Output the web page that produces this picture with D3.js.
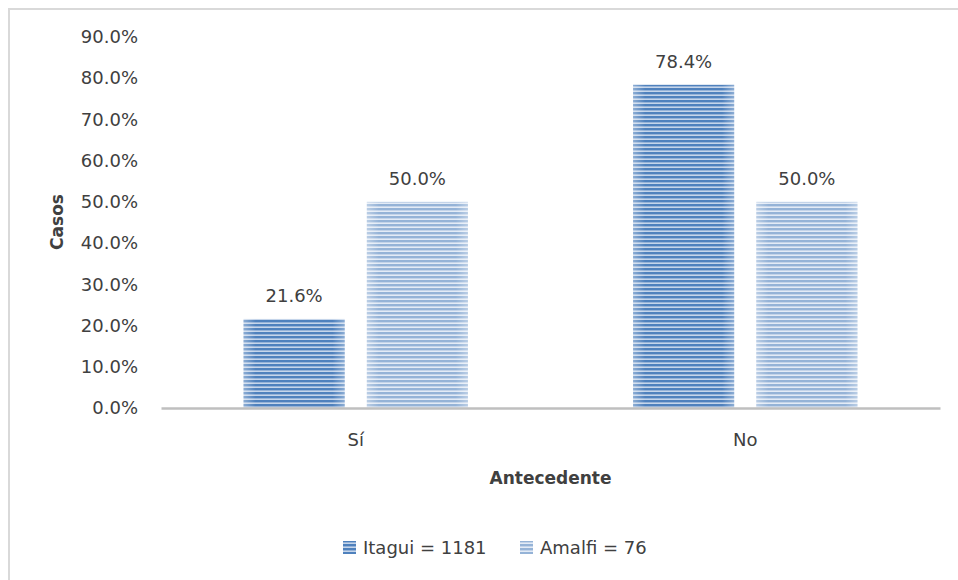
<!DOCTYPE html>
<html>
  <head>
    <meta charset="utf-8" />
    <title>antecedente</title>
    <script src="https://d3js.org/d3.v7.min.js"></script>
    <style>
      body {
        margin: 0;
        background: #fff;
      }
      text {
        font-family: "DejaVu Sans", sans-serif;
        fill: #404040;
      }
    </style>
  </head>
  <body>

    <svg id="chart"></svg>

    <script>

      var categories = ["Sí", "No"];
      var seriesNames = ["Itagui = 1181", "Amalfi = 76"];
      var itagui = [21.6, 78.4];
      var amalfi = [50.0, 50.0];
      var yTicks = [0, 10, 20, 30, 40, 50, 60, 70, 80, 90];

      var width = 958;
      var height = 580;
      var margin = { top: 37, right: 18, bottom: 172, left: 161 };
      var fontSize = "18px";

      var svg = d3.select("#chart")
        .attr("width", width)
        .attr("height", height);

      // chart area border
      svg.append("path")
        .attr("d", "M9," + height + "V9H" + width)
        .attr("fill", "none")
        .attr("stroke", "#d9d9d9")
        .attr("stroke-width", 2);

      // stripe patterns
      var defs = svg.append("defs");
      var stripes = [
        { id: "p0", bg: "#c5d5ea", fg: "#4f81bd" },
        { id: "p1", bg: "#e3ebf6", fg: "#95b3d7" }
      ];
      stripes.forEach(function(s) {
        var p = defs.append("pattern")
          .attr("id", s.id)
          .attr("patternUnits", "userSpaceOnUse")
          .attr("width", 4)
          .attr("height", 4);
        p.append("rect").attr("width", 4).attr("height", 4).attr("fill", s.bg);
        p.append("rect").attr("width", 4).attr("height", 2.4).attr("fill", s.fg);
      });
      var edge = defs.append("linearGradient").attr("id", "edge");
      edge.append("stop").attr("offset", "0").attr("stop-color", "#fff").attr("stop-opacity", 0.35);
      edge.append("stop").attr("offset", "0.12").attr("stop-color", "#fff").attr("stop-opacity", 0);
      edge.append("stop").attr("offset", "0.88").attr("stop-color", "#fff").attr("stop-opacity", 0);
      edge.append("stop").attr("offset", "1").attr("stop-color", "#fff").attr("stop-opacity", 0.35);

      var x = d3.scaleBand()
        .domain(categories)
        .range([margin.left, width - margin.right]);

      var x1 = d3.scaleBand()
        .domain(d3.range(seriesNames.length))
        .range([0, x.bandwidth()])
        .paddingInner(0.18)
        .paddingOuter(0.67);

      var y = d3.scaleLinear()
        .domain([0, 90])
        .range([height - margin.bottom, margin.top]);

      var yAxis = d3.axisLeft(y)
        .tickValues(yTicks)
        .tickSize(0)
        .tickPadding(23)
        .tickFormat(function(d) { return d.toFixed(1) + "%"; });

      var gy = svg.append("g")
        .attr("transform", "translate(" + margin.left + ",0)")
        .call(yAxis);
      gy.select(".domain").remove();
      gy.selectAll("text")
        .attr("font-size", fontSize)
        .style("font-family", "'DejaVu Sans', sans-serif");

      var allSeries = [itagui, amalfi];
      var groups = svg.append("g").selectAll("g")
        .data(categories)
        .enter().append("g")
        .attr("transform", function(d) { return "translate(" + x(d) + ",0)"; });

      groups.each(function(cat, ci) {
        var g = d3.select(this);
        allSeries.forEach(function(vals, si) {
          var v = vals[ci];
          g.append("rect")
            .attr("x", x1(si))
            .attr("y", y(v))
            .attr("width", x1.bandwidth())
            .attr("height", y(0) - y(v))
            .attr("fill", "url(#p" + si + ")");
          g.append("rect")
            .attr("x", x1(si))
            .attr("y", y(v))
            .attr("width", x1.bandwidth())
            .attr("height", y(0) - y(v))
            .attr("fill", "url(#edge)");
          g.append("text")
            .attr("x", x1(si) + x1.bandwidth() / 2)
            .attr("y", y(v) - 17)
            .attr("text-anchor", "middle")
            .attr("font-size", fontSize)
            .text(v.toFixed(1) + "%");
        });
      });

      // x axis
      var xAxis = d3.axisBottom(x).tickSize(0).tickPadding(25);
      var gx = svg.append("g")
        .attr("transform", "translate(0," + y(0) + ")")
        .call(xAxis);
      gx.select(".domain")
        .attr("stroke", "#bfbfbf")
        .attr("stroke-width", 2.5);
      gx.selectAll("text")
        .attr("font-size", fontSize)
        .style("font-family", "'DejaVu Sans', sans-serif");

      svg.append("text")
        .attr("x", (margin.left + width - margin.right) / 2)
        .attr("y", 484)
        .attr("text-anchor", "middle")
        .attr("font-size", "17px")
        .attr("font-weight", "bold")
        .text("Antecedente");

      svg.append("text")
        .attr("transform", "translate(63," + 222 + ") rotate(-90)")
        .attr("text-anchor", "middle")
        .attr("font-size", "17px")
        .attr("font-weight", "bold")
        .text("Casos");

      // legend
      var legendX = [343, 520];
      seriesNames.forEach(function(name, i) {
        svg.append("rect")
          .attr("x", legendX[i])
          .attr("y", 541)
          .attr("width", 13)
          .attr("height", 13)
          .attr("fill", "url(#p" + i + ")");
        svg.append("text")
          .attr("x", legendX[i] + 20)
          .attr("y", 554)
          .attr("font-size", fontSize)
          .text(name);
      });

    </script>

  </body>
</html>
